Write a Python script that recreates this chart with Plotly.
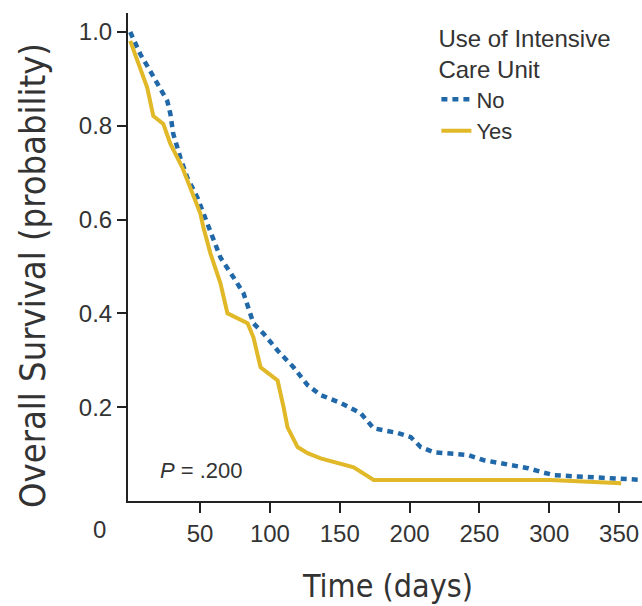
import plotly.graph_objects as go

# Data (time in days, survival probability)
no_time = [0, 7.2, 14.3, 19.4, 26.5, 28.7, 30.8, 35.9, 40.9, 48.1, 52.4, 57.4, 64.6, 73.9, 81.1,
           88.2, 95.4, 105.5, 116.9, 127, 136.3, 150.7, 165, 174.3, 191.5, 200.9, 208, 217.4,
           241.8, 253.2, 270.5, 284.8, 294.1, 303.5, 366]
no_surv = [1.0, 0.953, 0.917, 0.889, 0.853, 0.826, 0.783, 0.732, 0.689, 0.647, 0.613, 0.570, 0.519,
           0.477, 0.443, 0.379, 0.357, 0.321, 0.285, 0.247, 0.226, 0.209, 0.187, 0.155, 0.145,
           0.136, 0.115, 0.104, 0.098, 0.087, 0.077, 0.070, 0.062, 0.055, 0.045]

yes_time = [0, 2, 12.2, 16.5, 23.7, 28.7, 37.3, 43, 50.2, 52.4, 57.4, 64.6, 69.6, 84, 88.2, 93.3,
            105.5, 109.8, 112.6, 119.8, 127, 136.3, 160, 174.3, 301, 351.5]
yes_surv = [0.981, 0.964, 0.881, 0.821, 0.804, 0.762, 0.711, 0.668, 0.613, 0.583, 0.528, 0.464,
            0.400, 0.379, 0.349, 0.285, 0.257, 0.200, 0.157, 0.115, 0.102, 0.091, 0.072, 0.045,
            0.045, 0.038]

x_ticks = [50, 100, 150, 200, 250, 300, 350]
y_ticks = [0.2, 0.4, 0.6, 0.8, 1.0]

BLUE = "#2068a8"
GOLD = "#e0b828"
TXT = "#333333"
NARROW = "DejaVu Sans Condensed, sans-serif"
SANS = "Liberation Sans, Arial, sans-serif"

fig = go.Figure()
fig.add_trace(go.Scatter(x=no_time, y=no_surv, mode="lines", name="No",
                         line=dict(color=BLUE, width=4.5, dash="6px,5px")))
fig.add_trace(go.Scatter(x=yes_time, y=yes_surv, mode="lines", name="Yes",
                         line=dict(color=GOLD, width=4)))

fig.update_layout(
    width=642, height=606,
    margin=dict(l=128, r=0, t=13, b=105),
    paper_bgcolor="white", plot_bgcolor="white",
    font=dict(family=SANS, color=TXT, size=22),
    showlegend=True,
    legend=dict(
        title=dict(text="Use of Intensive<br>Care Unit", font=dict(size=24, color=TXT)),
        x=0.600, y=0.994, xanchor="left", yanchor="top",
        bgcolor="rgba(0,0,0,0)", itemwidth=30, tracegroupgap=0,
        font=dict(size=22, color=TXT),
    ),
    xaxis=dict(
        range=[-1.6, 366.4], tickvals=x_ticks, ticktext=[str(v) for v in x_ticks],
        showgrid=False, zeroline=False, showline=True, linecolor="#222", linewidth=2,
        ticks="outside", ticklen=10, tickwidth=2, tickcolor="#222",
        tickfont=dict(size=24, color=TXT),
    ),
    yaxis=dict(
        range=[0, 1.0405], tickvals=y_ticks, ticktext=[f"{v:.1f}" for v in y_ticks],
        showgrid=False, zeroline=False, showline=True, linecolor="#222", linewidth=2,
        ticks="outside", ticklen=9, tickwidth=2, tickcolor="#222",
        tickfont=dict(size=24, color=TXT),
    ),
    annotations=[
        dict(text="<i>P</i> = .200", x=0.058, y=0.063, xref="paper", yref="paper",
             xanchor="left", yanchor="middle", showarrow=False, font=dict(size=22, color=TXT)),
        dict(text="0", x=-0.055, y=-0.058, xref="paper", yref="paper",
             xanchor="center", yanchor="middle", showarrow=False, font=dict(size=24, color=TXT)),
        dict(text="Time (days)", x=0.504, y=-0.174, xref="paper", yref="paper",
             xanchor="center", yanchor="middle", showarrow=False,
             font=dict(family=NARROW, size=32, color=TXT)),
        dict(text="Overall Survival (probability)", x=-0.187, y=0.463, xref="paper", yref="paper",
             xanchor="center", yanchor="middle", textangle=-90, showarrow=False,
             font=dict(family=NARROW, size=36, color=TXT)),
    ],
)

fig.write_html("out.html")
